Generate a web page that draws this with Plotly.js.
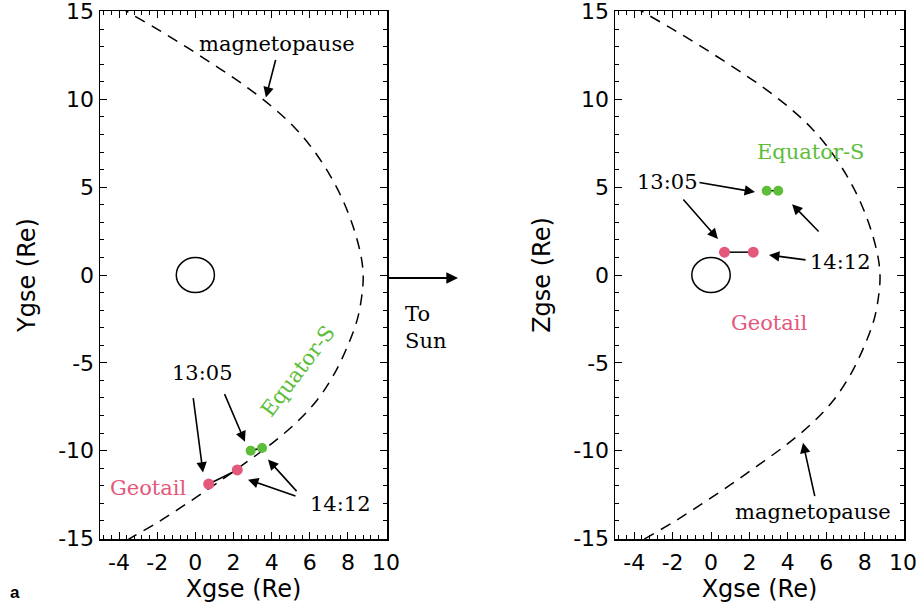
<!DOCTYPE html>
<html>
<head>
<meta charset="utf-8">
<script src="https://cdn.plot.ly/plotly-3.0.1.min.js"></script>
<style>
  html, body { margin: 0; padding: 0; background: #fff; }
  #chart { width: 919px; height: 610px; }
</style>
</head>
<body>
<div id="chart"></div>
<script>
// Model magnetopause boundary (Re), same outline in both projections
const mpX = [-4.0, -3.5, -2.0, -0.5, 1.0, 2.5, 4.0, 5.2, 6.2, 7.1, 7.8, 8.35, 8.7, 8.8,
             8.75, 8.5, 8.0, 7.3, 6.4, 5.3, 4.0, 2.5, 1.0, -0.5, -2.0, -3.5, -4.0];
const mpY = [15.3, 14.95, 14.0, 13.0, 11.95, 10.85, 9.6, 8.4, 7.1, 5.6, 4.1, 2.5, 1.0, 0.0,
             -1.0, -2.5, -4.0, -5.6, -7.1, -8.4, -9.6, -10.8, -11.95, -13.05, -14.1, -15.05, -15.4];

// Spacecraft positions at 13:05 and 14:12 (GSE, Re)
const geotailX = [0.7, 2.2];
const geotailY = [-11.9, -11.1];
const geotailZ = [1.3, 1.3];
const equatorX = [2.9, 3.5];
const equatorY = [-10.0, -9.85];
const equatorZ = [4.8, 4.8];

// Earth outline (radius 1 Re)
const earthR = 1;

// Tick labels (plain hyphen for negatives)
const xTickVals = [-4, -2, 0, 2, 4, 6, 8, 10];
const xTickText = ['-4', '-2', '0', '2', '4', '6', '8', '10'];
const yTickVals = [-15, -10, -5, 0, 5, 10, 15];
const yTickText = ['-15', '-10', '-5', '0', '5', '10', '15'];

const PINK = '#e4587c';
const GREEN = '#5cbd38';
const SERIF = 'DejaVu Serif';
const SANS = 'DejaVu Sans';

// map Plotly's default labels (typographic minus) onto the tick label arrays
function aliasFor(vals, texts) {
  const m = {};
  vals.forEach((v, i) => { m[String(v).replace('-', '\u2212')] = texts[i]; });
  return m;
}

const dashLine = { color: 'black', width: 1.5, dash: '11px,8px', shape: 'spline', smoothing: 1 };

const traces = [
  { x: mpX, y: mpY, xaxis: 'x', yaxis: 'y', mode: 'lines', line: dashLine, hoverinfo: 'skip' },
  { x: geotailX, y: geotailY, xaxis: 'x', yaxis: 'y', mode: 'lines+markers',
    line: { color: 'black', width: 1.5 }, marker: { color: PINK, size: 11 } },
  { x: equatorX, y: equatorY, xaxis: 'x', yaxis: 'y', mode: 'lines+markers',
    line: { color: 'black', width: 1.5 }, marker: { color: GREEN, size: 10 } },

  { x: mpX, y: mpY, xaxis: 'x2', yaxis: 'y2', mode: 'lines', line: dashLine, hoverinfo: 'skip' },
  { x: geotailX, y: geotailZ, xaxis: 'x2', yaxis: 'y2', mode: 'lines+markers',
    line: { color: 'black', width: 1.5 }, marker: { color: PINK, size: 11 } },
  { x: equatorX, y: equatorZ, xaxis: 'x2', yaxis: 'y2', mode: 'lines+markers',
    line: { color: 'black', width: 1.5 }, marker: { color: GREEN, size: 10 } }
];

function xAxis(domain, anchor) {
  return {
    domain: domain, anchor: anchor, range: [-5, 10.05],
    showline: true, linecolor: 'black', linewidth: 1.5, mirror: 'ticks',
    ticks: 'inside', ticklen: 7, tickwidth: 1, tickcolor: 'black',
    tickmode: 'linear', tick0: xTickVals[0], dtick: xTickVals[1] - xTickVals[0],
    labelalias: aliasFor(xTickVals, xTickText),
    minor: { dtick: 0.4, ticks: 'inside', ticklen: 4, tickcolor: 'black', showgrid: false },
    tickfont: { family: SANS, size: 22, color: 'black' }, ticklabelstandoff: 3,
    showgrid: false, zeroline: false,
    title: { text: 'Xgse (Re)', font: { family: SANS, size: 24, color: 'black' }, standoff: 2 }
  };
}

function yAxis(domain, anchor, label) {
  return {
    domain: domain, anchor: anchor, range: [-15.03, 15.03],
    showline: true, linecolor: 'black', linewidth: 1.5, mirror: 'ticks',
    ticks: 'inside', ticklen: 7, tickwidth: 1, tickcolor: 'black',
    tickmode: 'linear', tick0: yTickVals[0], dtick: yTickVals[1] - yTickVals[0],
    labelalias: aliasFor(yTickVals, yTickText),
    minor: { dtick: 1, ticks: 'inside', ticklen: 4, tickcolor: 'black', showgrid: false },
    tickfont: { family: SANS, size: 22, color: 'black' }, ticklabeloverflow: 'allow',
    showgrid: false, zeroline: false,
    title: { text: label, font: { family: SANS, size: 24, color: 'black' }, standoff: 16 }
  };
}

function label(xref, yref, x, y, text, color, extra) {
  return Object.assign({
    xref: xref, yref: yref, x: x, y: y, text: text, showarrow: false,
    font: { family: SERIF, size: 21, color: color || 'black' }
  }, extra || {});
}

function arrow(xref, yref, tailX, tailY, tipX, tipY) {
  return {
    xref: xref, yref: yref, axref: xref, ayref: yref,
    x: tipX, y: tipY, ax: tailX, ay: tailY, text: '',
    showarrow: true, arrowhead: 2, arrowsize: 1.3, arrowwidth: 1.6, arrowcolor: 'black', standoff: 0
  };
}

const annotations = [
  // Y-X projection
  label('x', 'y', 4.28, 13.18, 'magnetopause'),
  arrow('x', 'y', 4.23, 12.33, 3.70, 10.11),
  label('x', 'y', 0.35, -5.57, '13:05'),
  arrow('x', 'y', -0.12, -6.93, 0.40, -11.25),
  arrow('x', 'y', 1.50, -6.70, 2.60, -9.49),
  label('x', 'y', 7.59, -13.01, '14:12'),
  arrow('x', 'y', 5.33, -12.61, 2.76, -11.65),
  arrow('x', 'y', 5.38, -12.39, 3.81, -10.51),
  label('x', 'y', -2.48, -12.1, 'Geotail', PINK),
  label('x', 'y', 5.38, -5.45, 'Equator-S', GREEN, { textangle: -53 }),

  // Z-X projection
  label('x2', 'y2', 5.16, 6.99, 'Equator-S', GREEN),
  label('x2', 'y2', -2.29, 5.28, '13:05'),
  arrow('x2', 'y2', -0.68, 5.28, 2.29, 4.72),
  arrow('x2', 'y2', -1.51, 4.38, 0.36, 2.05),
  label('x2', 'y2', 6.72, 0.74, '14:12'),
  arrow('x2', 'y2', 5.0, 0.85, 3.02, 1.14),
  arrow('x2', 'y2', 5.68, 2.39, 4.22, 4.03),
  label('x2', 'y2', 3.07, -2.73, 'Geotail', PINK),
  label('x2', 'y2', 5.31, -13.52, 'magnetopause'),
  arrow('x2', 'y2', 5.42, -12.67, 4.79, -9.55),

  // Sun direction
  {
    xref: 'paper', yref: 'paper', x: 0.4984, y: 0.5443, ax: 0.4211, ay: 0.5443,
    axref: 'paper', ayref: 'paper', text: '', showarrow: true,
    arrowhead: 2, arrowsize: 1.3, arrowwidth: 1.8, arrowcolor: 'black', standoff: 0
  },
  {
    xref: 'paper', yref: 'paper', x: 0.4385, y: 0.4639, xanchor: 'left', yanchor: 'middle', align: 'left',
    text: 'To<br>Sun', showarrow: false, font: { family: SERIF, size: 21, color: 'black' }
  },

  // Panel letter
  {
    xref: 'paper', yref: 'paper', x: 0.0163, y: 0.0279, xanchor: 'center', yanchor: 'middle',
    text: '<b>a</b>', showarrow: false,
    font: { family: 'Liberation Sans', size: 17, color: 'black' }
  }
];

const shapes = [
  { type: 'circle', xref: 'x', yref: 'y', x0: -earthR, x1: earthR, y0: -earthR, y1: earthR, line: { color: 'black', width: 1.5 } },
  { type: 'circle', xref: 'x2', yref: 'y2', x0: -earthR, x1: earthR, y0: -earthR, y1: earthR, line: { color: 'black', width: 1.5 } }
];

const layout = {
  width: 919, height: 610,
  margin: { l: 0, r: 0, t: 0, b: 0, pad: 0 },
  paper_bgcolor: 'white', plot_bgcolor: 'white',
  showlegend: false,
  xaxis: xAxis([100 / 919, 387 / 919], 'y'),
  yaxis: yAxis([1 - 539 / 610, 1 - 11 / 610], 'x', 'Ygse (Re)'),
  xaxis2: xAxis([615 / 919, 904 / 919], 'y2'),
  yaxis2: yAxis([1 - 539 / 610, 1 - 11 / 610], 'x2', 'Zgse (Re)'),
  annotations: annotations,
  shapes: shapes
};

Plotly.newPlot('chart', traces, layout, { staticPlot: true, displayModeBar: false });
</script>
</body>
</html>
